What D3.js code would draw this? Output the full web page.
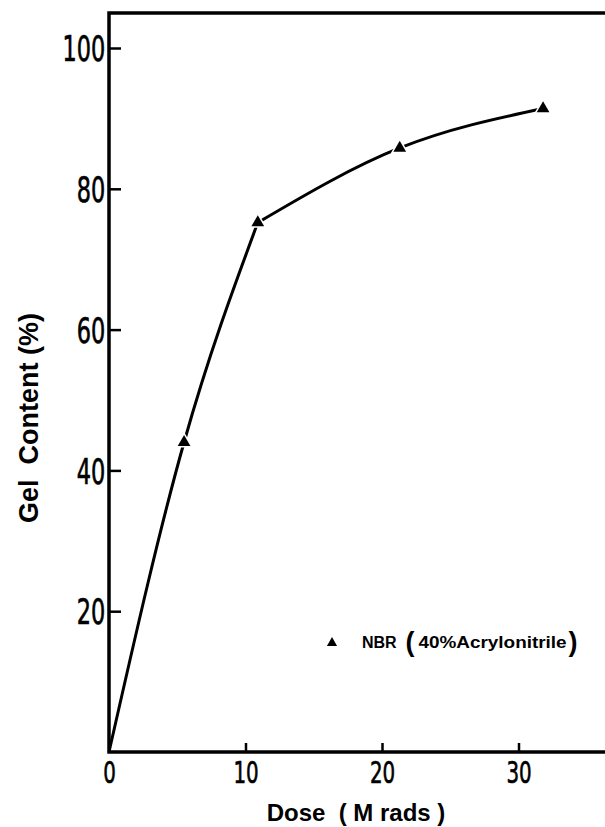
<!DOCTYPE html>
<html>
<head>
<meta charset="utf-8">
<script src="https://cdn.jsdelivr.net/npm/d3@7"></script>
<style>
  body { margin: 0; background: #fff; }
  .tick text { font-family: "DejaVu Sans", sans-serif; fill: #000; stroke: #000; stroke-width: 0.7px; }
  .title { font-family: "Liberation Sans", Arial, sans-serif; font-weight: bold; fill: #000; white-space: pre; }
</style>
</head>
<body>
<div id="chart"></div>
<script>
// Dose (M rads) vs gel content (%) -- NBR (40% acrylonitrile)
var doses = [0, 5.5, 10.9, 21.3, 31.8];
var gelContent = [0, 44, 75.2, 85.8, 91.4];
var xTicks = [0, 10, 20, 30];
var yTicks = [20, 40, 60, 80, 100];
var seriesName = "NBR";

var width = 605, height = 827;
var margin = { top: 13, left: 109, bottom: 75 };

var svg = d3.select("#chart").append("svg")
    .attr("width", width)
    .attr("height", height);

// scales
var x = d3.scaleLinear().domain([0, 37]).range([margin.left, margin.left + 37 * 13.65]);
var y = d3.scaleLinear().domain([0, 100]).range([752, 48]);
var yTop = y.invert(margin.top);

// frame (right side runs off the page)
svg.append("path")
    .attr("d", "M" + x(37) + "," + y(yTop) + "H" + x(0) + "V" + y(0) + "H" + x(37))
    .attr("fill", "none")
    .attr("stroke", "#000")
    .attr("stroke-width", 3.5);

// axes
var xAxis = d3.axisBottom(x).tickValues(xTicks).tickSizeInner(-9).tickSizeOuter(0).tickPadding(9);
var yAxis = d3.axisLeft(y).tickValues(yTicks).tickSizeInner(-12).tickSizeOuter(0).tickPadding(6);

var gx = svg.append("g").attr("transform", "translate(0," + y(0) + ")").call(xAxis);
var gy = svg.append("g").attr("transform", "translate(" + x(0) + ",0)").call(yAxis);

[gx, gy].forEach(function(g) {
    g.select(".domain").remove();
    g.selectAll(".tick line").attr("stroke", "#000").attr("stroke-width", 2.5);
});
// condensed lettering like the original stencil digits
gx.selectAll(".tick text").style("font-size", "31px").attr("transform", "scale(0.64,1)");
gy.selectAll(".tick text").style("font-size", "35px").attr("dy", "0.36em").attr("transform", "scale(0.64,1)");

// axis titles
svg.append("text")
    .attr("class", "title")
    .attr("x", 356)
    .attr("y", 821)
    .attr("text-anchor", "middle")
    .style("font-size", "24px")
    .text("Dose  ( M rads )");

svg.append("text")
    .attr("class", "title")
    .attr("transform", "translate(38,418) rotate(-90)")
    .attr("text-anchor", "middle")
    .style("font-size", "27px")
    .text("Gel  Content (%)");

// curve: two smooth pieces with a kink at the third point
var line = d3.line()
    .x(function(d) { return x(d[0]); })
    .y(function(d) { return y(d[1]); })
    .curve(d3.curveMonotoneX);

var pts = doses.map(function(d, i) { return [d, gelContent[i]]; });

svg.selectAll(".seg")
    .data([pts.slice(0, 3), pts.slice(2)])
    .enter().append("path")
    .attr("class", "seg")
    .attr("d", line)
    .attr("fill", "none")
    .attr("stroke", "#000")
    .attr("stroke-width", 3);

var tri = d3.symbol().type(d3.symbolTriangle).size(70);

svg.selectAll(".pt")
    .data(pts.slice(1))
    .enter().append("path")
    .attr("class", "pt")
    .attr("d", tri)
    .attr("transform", function(d) { return "translate(" + x(d[0]) + "," + y(d[1]) + ")"; })
    .attr("fill", "#000")
    .attr("stroke", "#fff")
    .attr("stroke-width", 3)
    .attr("paint-order", "stroke");

// legend
var leg = svg.append("g").attr("transform", "translate(332,643)");
leg.append("path").attr("d", d3.symbol().type(d3.symbolTriangle).size(45)).attr("fill", "#000");
var lt = leg.append("text")
    .attr("class", "title")
    .attr("x", 30)
    .attr("y", 5)
    .style("font-size", "16px");
lt.append("tspan").text(seriesName + "  ");
lt.append("tspan").style("font-size", "27px").attr("dy", 3).text("(");
lt.append("tspan").style("font-size", "16px").attr("dy", -3).attr("dx", 4)
    .attr("textLength", 148).attr("lengthAdjust", "spacingAndGlyphs").text("40%Acrylonitrile");
lt.append("tspan").style("font-size", "27px").attr("dy", 3).attr("dx", 2).text(")");
</script>
</body>
</html>
